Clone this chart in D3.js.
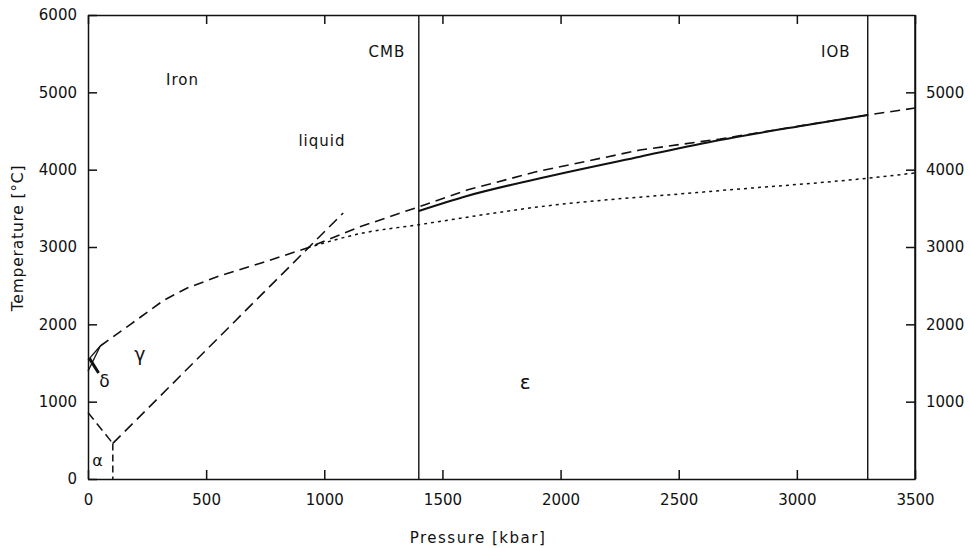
<!DOCTYPE html>
<html>
<head>
<meta charset="utf-8">
<script src="https://cdn.jsdelivr.net/npm/d3@7"></script>
<style>
  body { margin: 0; background: #fff; }
  svg text { font-family: "DejaVu Sans", sans-serif; fill: #111; }
  .axis path, .axis line { stroke: #111; stroke-width: 1.5; }
  .axis text { font-size: 15px; font-family: "DejaVu Sans", sans-serif; }
</style>
</head>
<body>
<svg id="chart" width="970" height="548"></svg>
<script>
// pressure [kbar], temperature [°C]
const xTicks = [0, 500, 1000, 1500, 2000, 2500, 3000, 3500];
const yTicksLeft = [0, 1000, 2000, 3000, 4000, 5000, 6000];
const yTicksRight = [1000, 2000, 3000, 4000, 5000];

const boundaries = [
  { name: 'CMB', p: 1400 },
  { name: 'IOB', p: 3300 }
];

// melting curve (dashed)
const meltCurve = [
  [52, 1720], [180, 2000], [320, 2310], [420, 2470], [560, 2630],
  [740, 2800], [930, 2990], [1150, 3260], [1400, 3520], [1604, 3737],
  [1900, 3975], [2336, 4254], [2675, 4397], [3043, 4580], [3300, 4707],
  [3500, 4797]
];
// solid curve in outer core
const coreCurve = [
  [1400, 3466], [1604, 3660], [1913, 3889], [2336, 4168], [2675, 4384],
  [3043, 4578], [3300, 4707]
];
// dotted curve
const dottedCurve = [
  [930, 2990], [1164, 3181], [1392, 3285], [1913, 3521], [2620, 3715],
  [3297, 3889], [3500, 3957]
];
// gamma / epsilon boundary
const gammaEps = [[105, 460], [1080, 3440]];
// alpha / gamma boundary
const alphaGamma = [[0, 860], [105, 460]];
// alpha / epsilon boundary
const alphaEps = [[105, 460], [105, 0]];
// delta field
const deltaMelt = [[0, 1538], [52, 1720]];
const deltaGamma = [[0, 1394], [52, 1720]];
const deltaArrow = [[45, 1370], [6, 1560]];

const labels = [
  { text: 'Iron', p: 400, t: 5150, size: 15 },
  { text: 'liquid', p: 990, t: 4370, size: 15 },
  { text: 'CMB', p: 1265, t: 5510, size: 15 },
  { text: 'IOB', p: 3165, t: 5510, size: 15 },
  { text: 'γ', p: 220, t: 1600, size: 19 },
  { text: 'δ', p: 70, t: 1250, size: 17 },
  { text: 'α', p: 40, t: 220, size: 16 },
  { text: 'ε', p: 1850, t: 1240, size: 20 }
];

const svg = d3.select('#chart');
const margin = { left: 88, right: 55, top: 15, bottom: 69 };
const width = 970, height = 548;

const x = d3.scaleLinear().domain([0, 3500]).range([margin.left, width - margin.right]);
const y = d3.scaleLinear().domain([0, 6000]).range([height - margin.bottom, margin.top]);

svg.append('g').attr('class', 'axis')
  .attr('transform', `translate(0,${y(0)})`)
  .call(d3.axisBottom(x).tickValues(xTicks).tickSizeInner(-9).tickSizeOuter(0)
    .tickPadding(15).tickFormat(d3.format('d')));

svg.append('g').attr('class', 'axis')
  .attr('transform', `translate(0,${y(6000)})`)
  .call(d3.axisTop(x).tickValues(xTicks).tickSizeInner(-9).tickSizeOuter(0)
    .tickFormat(''));

svg.append('g').attr('class', 'axis')
  .attr('transform', `translate(${x(0)},0)`)
  .call(d3.axisLeft(y).tickValues(yTicksLeft).tickSizeInner(-9).tickSizeOuter(0)
    .tickPadding(11).tickFormat(d3.format('d')));

svg.append('g').attr('class', 'axis')
  .attr('transform', `translate(${x(3500)},0)`)
  .call(d3.axisRight(y).tickValues(yTicksRight).tickSizeInner(-9).tickSizeOuter(0)
    .tickPadding(11).tickFormat(d3.format('d')));

// right axis line over full height
svg.append('line')
  .attr('x1', x(3500)).attr('x2', x(3500))
  .attr('y1', y(0)).attr('y2', y(6000))
  .attr('stroke', '#111').attr('stroke-width', 1.5);

svg.selectAll('.boundary')
  .data(boundaries)
  .enter().append('line')
  .attr('class', 'boundary')
  .attr('x1', d => x(d.p)).attr('x2', d => x(d.p))
  .attr('y1', y(0)).attr('y2', y(6000))
  .attr('stroke', '#111').attr('stroke-width', 1.4);

const line = d3.line().x(d => x(d[0])).y(d => y(d[1]));
const smooth = d3.line().x(d => x(d[0])).y(d => y(d[1])).curve(d3.curveMonotoneX);

function draw(data, gen, dash, w) {
  svg.append('path')
    .attr('d', gen(data))
    .attr('fill', 'none')
    .attr('stroke', '#111')
    .attr('stroke-width', w)
    .attr('stroke-dasharray', dash);
}

draw(meltCurve, line, '10,6', 1.6);
draw(coreCurve, smooth, null, 2);
draw(dottedCurve, smooth, '3,4', 1.5);
draw(gammaEps, line, '11,6', 1.6);
draw(alphaGamma, line, '9,5', 1.5);
draw(alphaEps, line, '7,4', 1.5);
draw(deltaMelt, line, null, 1.3);
draw(deltaGamma, line, null, 1.3);
draw(deltaArrow, line, null, 3);

svg.selectAll('.lbl')
  .data(labels)
  .enter().append('text')
  .attr('class', 'lbl')
  .attr('x', d => x(d.p))
  .attr('y', d => y(d.t))
  .attr('text-anchor', 'middle')
  .attr('dominant-baseline', 'middle')
  .attr('font-size', d => d.size)
  .attr('letter-spacing', d => d.text.length > 1 ? 1 : 0)
  .text(d => d.text);

svg.append('text')
  .attr('x', 478)
  .attr('y', 543)
  .attr('text-anchor', 'middle')
  .attr('font-size', 15)
  .attr('letter-spacing', 1.5)
  .text('Pressure [kbar]');

svg.append('text')
  .attr('transform', `translate(23,238) rotate(-90)`)
  .attr('text-anchor', 'middle')
  .attr('font-size', 15.5)
  .attr('letter-spacing', 0.8)
  .text('Temperature [°C]');
</script>
</body>
</html>
